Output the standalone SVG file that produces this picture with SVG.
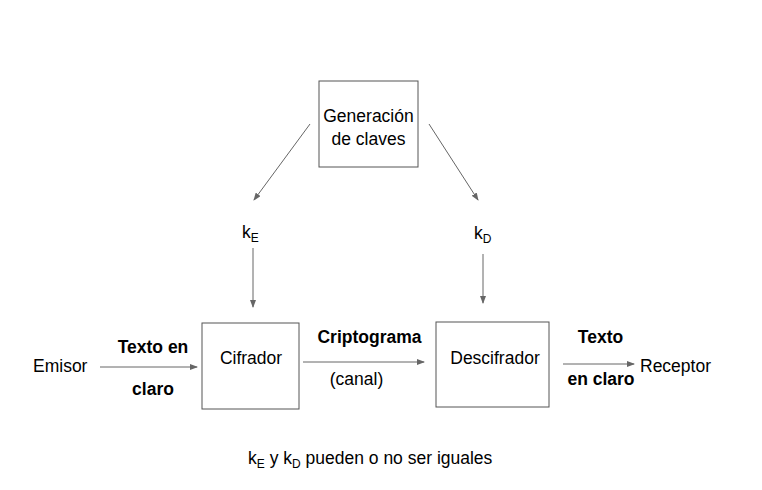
<svg xmlns="http://www.w3.org/2000/svg" width="762" height="490" viewBox="0 0 762 490">
<style>
text{font-family:"Liberation Sans",Arial,sans-serif;font-size:17.5px;fill:#000}
.b{font-weight:bold}
.sub{font-size:12px}
.box{fill:#fff;stroke:#555;stroke-width:1}
.ln{stroke:#666;stroke-width:1;fill:none;marker-end:url(#ah)}
</style>
<defs>
<marker id="ah" markerWidth="8" markerHeight="6" refX="7" refY="3" orient="auto" markerUnits="userSpaceOnUse">
<path d="M0,0 L8,3 L0,6 Z" fill="#666"/>
</marker>
</defs>
<rect width="762" height="490" fill="#fff"/>
<g id="connectors">
<line class="ln" x1="310" y1="124" x2="254" y2="200"/>
<line class="ln" x1="429" y1="124" x2="478" y2="200"/>
<line class="ln" x1="253" y1="248" x2="253" y2="307"/>
<line class="ln" x1="483" y1="254" x2="483" y2="303"/>
<line class="ln" x1="100" y1="367" x2="197" y2="367"/>
<line class="ln" x1="303" y1="362" x2="424" y2="362"/>
<line class="ln" x1="563" y1="364" x2="634" y2="364"/>
</g>
<g id="gen">
<rect class="box" x="319" y="81" width="99" height="86"/>
<text x="368.5" y="122" text-anchor="middle">Generación</text>
<text x="368.5" y="145" text-anchor="middle">de claves</text>
</g>
<g id="cifrador">
<rect class="box" x="202" y="323" width="97" height="86"/>
<text x="251" y="364" text-anchor="middle">Cifrador</text>
</g>
<g id="descifrador">
<rect class="box" x="436" y="322" width="113" height="85"/>
<text x="495" y="364" text-anchor="middle">Descifrador</text>
</g>
<g id="emisor"><text x="33" y="372">Emisor</text></g>
<g id="receptor"><text x="640" y="372">Receptor</text></g>
<g id="labels">
<text x="242" y="238">k<tspan class="sub" dy="4">E</tspan></text>
<text x="474" y="239">k<tspan class="sub" dy="4">D</tspan></text>
<text class="b" x="153" y="353" text-anchor="middle">Texto en</text>
<text class="b" x="153" y="395" text-anchor="middle">claro</text>
<text class="b" x="369.5" y="343" text-anchor="middle">Criptograma</text>
<text x="356.5" y="385" text-anchor="middle">(canal)</text>
<text class="b" x="600.5" y="343" text-anchor="middle">Texto</text>
<text class="b" x="601" y="385" text-anchor="middle">en claro</text>
<text x="248" y="464">k<tspan class="sub" dy="4">E</tspan><tspan dy="-4"> y k</tspan><tspan class="sub" dy="4">D</tspan><tspan dy="-4"> pueden o no ser iguales</tspan></text>
</g>
</svg>
